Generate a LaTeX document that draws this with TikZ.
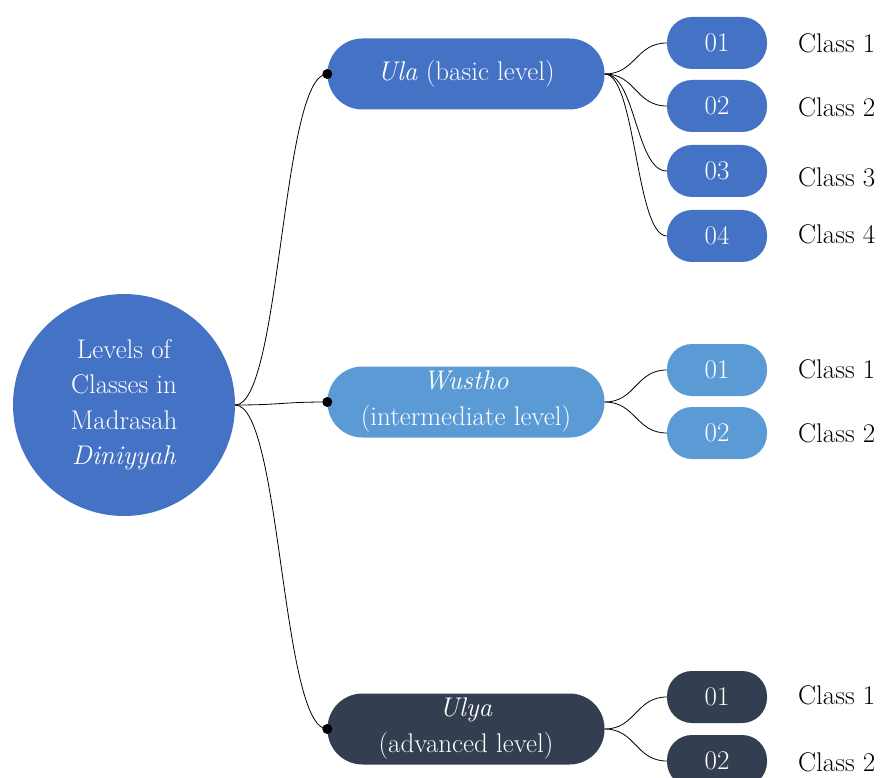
\documentclass[tikz,border=0pt]{standalone}
\usepackage{tikz}

\definecolor{ulacol}{HTML}{4472C4}
\definecolor{wusthocol}{HTML}{5B9BD5}
\definecolor{ulyacol}{HTML}{333F50}

\tikzset{
  rootnode/.style={circle,fill=ulacol,text=white,minimum size=222pt,inner sep=0pt,align=center,
    font=\fontsize{27}{35.5}\selectfont},
  levelbox/.style={fill=#1,text=white,rounded corners=35pt,minimum width=277pt,minimum height=71pt,
    inner sep=0pt,align=center,font=\fontsize{27}{36}\selectfont},
  classbox/.style={fill=#1,text=white,rounded corners=25pt,minimum width=100pt,minimum height=52pt,
    inner sep=0pt,font=\fontsize{27}{30}\selectfont},
  classlabel/.style={anchor=west,inner sep=0pt,font=\fontsize{27}{30}\selectfont},
  link/.style={draw=black,line width=0.8pt},
}

\begin{document}
\begin{tikzpicture}[x=1pt,y=-1pt]
    \useasboundingbox (0,0) rectangle (881,778);

    % root and the three levels
    \node[rootnode] (root) at (124,405) {Levels of\\Classes in\\Madrasah\\\textit{Diniyyah}};
    \node[levelbox=ulacol] (ula) at (466,74) {\textit{Ula} (basic level)};
    \node[levelbox=wusthocol] (wustho) at (466,402) {\textit{Wustho}\\(intermediate level)};
    \node[levelbox=ulyacol] (ulya) at (466,729) {\textit{Ulya}\\(advanced level)};

    % classes of Ula
    \node[classbox=ulacol] (ula1) at (717,43) {01};
    \node[classbox=ulacol] (ula2) at (717,106) {02};
    \node[classbox=ulacol] (ula3) at (717,171) {03};
    \node[classbox=ulacol] (ula4) at (717,236) {04};
    \node[classlabel] (ula1l) at (798,43) {Class 1};
    \node[classlabel] (ula2l) at (798,107) {Class 2};
    \node[classlabel] (ula3l) at (798,177) {Class 3};
    \node[classlabel] (ula4l) at (798,234) {Class 4};

    % classes of Wustho
    \node[classbox=wusthocol] (wus1) at (717,370) {01};
    \node[classbox=wusthocol] (wus2) at (717,433) {02};
    \node[classlabel] (wus1l) at (798,369) {Class 1};
    \node[classlabel] (wus2l) at (798,433) {Class 2};

    % classes of Ulya
    \node[classbox=ulyacol] (uly1) at (717,697) {01};
    \node[classbox=ulyacol] (uly2) at (717,761) {02};
    \node[classlabel] (uly1l) at (798,695) {Class 1};
    \node[classlabel] (uly2l) at (798,762) {Class 2};

    % connectors
    \draw[link] (root.east) .. controls +(46,0) and +(-46,0) .. (ula.west);
    \draw[link] (root.east) .. controls +(46,0) and +(-46,0) .. (wustho.west);
    \draw[link] (root.east) .. controls +(46,0) and +(-46,0) .. (ulya.west);
    \fill (ula.west) circle (5pt);
    \fill (wustho.west) circle (5pt);
    \fill (ulya.west) circle (5pt);

    \draw[link] (ula.east) .. controls +(31,0) and +(-31,0) .. (ula1.west);
    \draw[link] (ula.east) .. controls +(31,0) and +(-31,0) .. (ula2.west);
    \draw[link] (ula.east) .. controls +(31,0) and +(-31,0) .. (ula3.west);
    \draw[link] (ula.east) .. controls +(31,0) and +(-31,0) .. (ula4.west);
    \draw[link] (wustho.east) .. controls +(31,0) and +(-31,0) .. (wus1.west);
    \draw[link] (wustho.east) .. controls +(31,0) and +(-31,0) .. (wus2.west);
    \draw[link] (ulya.east) .. controls +(31,0) and +(-31,0) .. (uly1.west);
    \draw[link] (ulya.east) .. controls +(31,0) and +(-31,0) .. (uly2.west);
  \end{tikzpicture}
\end{document}
